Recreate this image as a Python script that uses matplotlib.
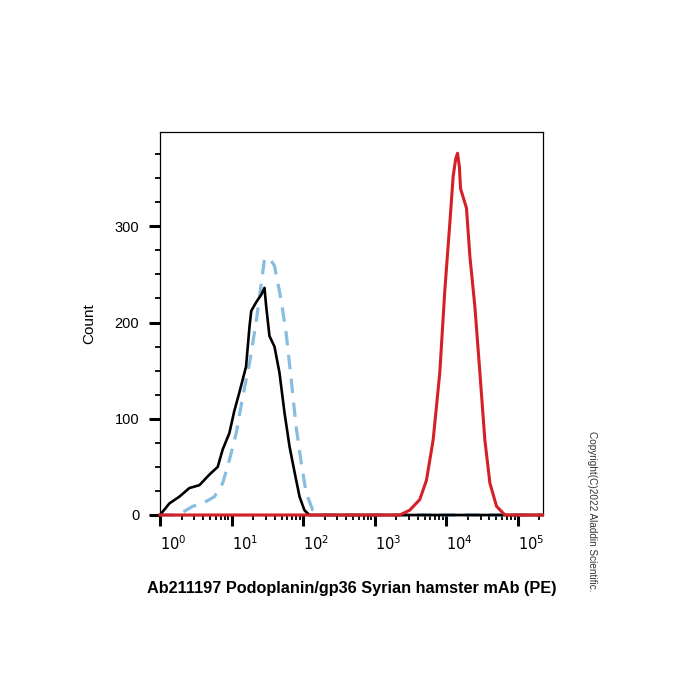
import matplotlib.pyplot as plt
from matplotlib.ticker import LogLocator, MultipleLocator, NullFormatter

plt.rcParams['font.family'] = ['Liberation Sans', 'DejaVu Sans']

# isotype / unstained control (black)
black_x = [1.0, 1.35, 1.86, 2.57, 3.55, 4.9, 6.4, 7.5, 9.3, 10.9, 12.8, 15.9, 17.8, 18.8,
           22, 26, 28.8, 30.4, 33.8, 39.7, 46.6, 54.9, 64.5, 76, 89, 104, 122, 2.2e5]
black_y = [0, 12, 19, 28, 31, 42, 50, 68, 85, 108, 127, 154, 196, 212,
           221, 229, 236, 217, 186, 175, 148, 106, 71, 44, 19, 5, 0, 0]

# second control (light blue, dashed)
blue_x = [1.0, 1.6, 2.2, 2.86, 3.95, 5.75, 7.5, 9.3, 11.6, 14.3, 17.8, 22, 26, 28.8,
          33.8, 39.7, 49, 57.8, 68, 79.6, 94, 110, 136, 169, 2.2e5]
blue_y = [0, 0, 4, 9, 12, 19, 33, 57, 85, 123, 158, 200, 241, 266,
          267, 259, 224, 189, 141, 92, 54, 23, 5, 0, 0]

# Ab211197 stained sample (red)
red_x = [1.0, 2240, 3080, 4250, 5270, 6540, 8100, 9530, 11200, 12450, 13500, 14330,
         15200, 15800, 19100, 21300, 25000, 29400, 34500, 40600, 50300, 65800, 2.2e5]
red_y = [0, 0, 5, 16, 36, 78, 148, 234, 304, 352, 370, 376,
         362, 339, 319, 269, 217, 148, 78, 33, 9, 0, 0]

fig = plt.figure(figsize=(7, 7), dpi=100)
ax = fig.add_axes([0.2286, 0.2643, 0.5471, 0.5471])

ax.plot(black_x, black_y, color='black', lw=1.9, clip_on=False, zorder=3)
ax.plot(blue_x, blue_y, color='#86BDE0', lw=2.3, dashes=(4.5, 3), clip_on=False, zorder=2)
ax.plot(red_x, red_y, color='#D42027', lw=2.2, clip_on=False, zorder=4)

ax.set_xscale('log')
ax.set_xlim(1, 10 ** 5.35)
ax.set_ylim(0, 398)

ax.set_xticks([1, 10, 100, 1e3, 1e4, 1e5])
ax.set_xticklabels([r'$10^{%d}$' % i for i in range(6)], ha='left')
ax.xaxis.set_minor_locator(LogLocator(base=10, subs=range(2, 10)))
ax.xaxis.set_minor_formatter(NullFormatter())
ax.set_yticks([0, 100, 200, 300])
ax.yaxis.set_minor_locator(MultipleLocator(25))

ax.tick_params(axis='both', which='major', direction='out', length=8, width=2.2,
               labelsize=10.5, pad=6)
ax.tick_params(axis='both', which='minor', direction='out', length=3.5, width=1.3)
ax.tick_params(axis='y', which='major', pad=7)

for s in ax.spines.values():
    s.set_linewidth(0.9)

ax.set_ylabel('Count', fontsize=11, labelpad=13)
ax.set_xlabel('Ab211197 Podoplanin/gp36 Syrian hamster mAb (PE)', fontsize=11.7,
              fontweight='bold', labelpad=20)

fig.text(0.846, 0.27, 'Copyright(C)2022 Aladdin Scientific.', rotation=270,
         fontsize=7.2, color='#333333', ha='center', va='center')

fig.savefig('out.png', dpi=100)
